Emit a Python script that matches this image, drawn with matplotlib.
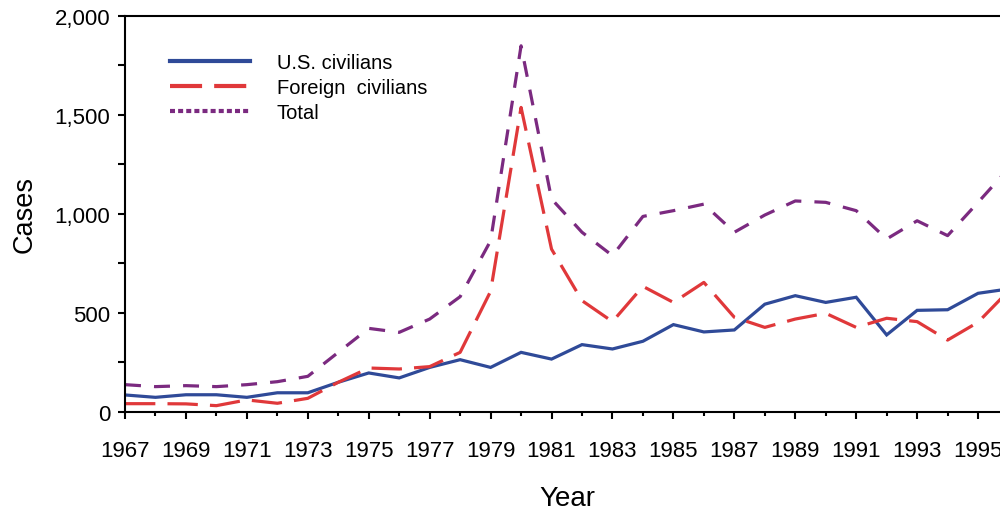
import matplotlib
matplotlib.use('Agg')
import matplotlib.pyplot as plt
from matplotlib.lines import Line2D
from matplotlib.ticker import FixedLocator, MultipleLocator, FuncFormatter

plt.rcParams['font.family'] = ['Liberation Sans', 'DejaVu Sans']

years = list(range(1967, 1997))
us_civilians = [86, 74, 87, 87, 74, 97, 97, 150, 197, 172, 225, 264, 225, 301, 267,
                340, 318, 357, 441, 404, 414, 544, 587, 553, 579, 389, 513, 516, 599, 621]
foreign_civilians = [42, 42, 41, 32, 61, 44, 69, 150, 222, 217, 229, 301, 609, 1537, 822,
                     562, 456, 634, 553, 654, 478, 427, 469, 498, 427, 473, 456, 363, 453, 611]
total = [138, 128, 133, 128, 138, 153, 180, 301, 422, 402, 469, 582, 864, 1848, 1075,
         907, 789, 987, 1016, 1049, 907, 994, 1065, 1058, 1016, 873, 965, 890, 1058, 1229]

blue = '#2f4a98'
red = '#e0383a'
purple = '#7b2a80'


def plot_cases(save_image=True):
    fig = plt.figure(figsize=(10, 5.1), dpi=100)
    ax = fig.add_axes([0.125, 0.1902, 0.875, 0.7771])

    ax.plot(years, us_civilians, color=blue, lw=2.3, solid_joinstyle='miter')
    ax.plot(years, foreign_civilians, color=red, lw=2.3, dashes=(9.5, 3.8))
    ax.plot(years, total, color=purple, lw=2.3, dashes=(5.0, 4.1))

    ax.set_xlim(1967, 1995.72)
    ax.set_ylim(0, 2000)

    ax.spines['right'].set_visible(False)
    for side in ['left', 'top', 'bottom']:
        ax.spines[side].set_linewidth(1.5)

    ax.xaxis.set_major_locator(FixedLocator(years[::2]))
    ax.xaxis.set_minor_locator(MultipleLocator(1))
    ax.yaxis.set_major_locator(MultipleLocator(500))
    ax.yaxis.set_minor_locator(MultipleLocator(250))
    ax.yaxis.set_major_formatter(FuncFormatter(lambda v, p: f'{int(v):,}'))

    ax.tick_params(axis='x', which='major', length=5, width=1.5, pad=15.5, labelsize=16, direction='out')
    ax.tick_params(axis='x', which='minor', length=3, width=1.5, direction='out')
    ax.tick_params(axis='y', which='both', length=5, width=1.5, pad=5.5, labelsize=16, direction='out')
    ax.tick_params(axis='both', which='both', top=False, right=False)

    ax.set_ylabel('Cases', fontsize=19.5)
    ax.yaxis.set_label_coords(-0.10, 0.5)
    ax.set_xlabel('Year', fontsize=20)
    ax.xaxis.set_label_coords(0.505, -0.183)

    handles = [Line2D([], [], color=blue, lw=3),
               Line2D([], [], color=red, lw=3, dashes=(7.7, 2.9)),
               Line2D([], [], color=purple, lw=3, dashes=(1.2, 0.75))]
    ax.legend(handles, ['U.S. civilians', 'Foreign  civilians', 'Total'],
              loc='upper left', bbox_to_anchor=(0.0514, 0.905), frameon=False,
              fontsize=14.5, handlelength=3.95, handletextpad=1.35, labelspacing=0.3,
              borderpad=0, borderaxespad=0)

    if save_image:
        fig.savefig('out.png', dpi=100)
    plt.close()


plot_cases()
